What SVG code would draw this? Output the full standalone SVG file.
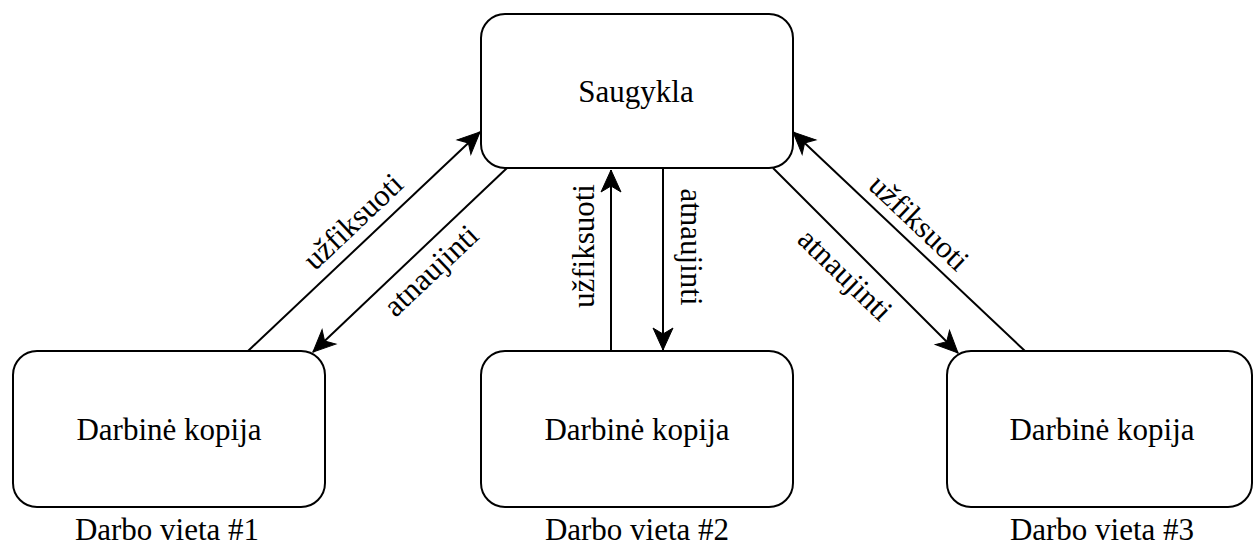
<svg xmlns="http://www.w3.org/2000/svg" width="1253" height="545" viewBox="0 0 1253 545">
  <style>
    .box { fill: #ffffff; stroke: #000000; stroke-width: 2; }
    .lbl { font-size: 31px; fill: #000000; text-anchor: middle; }
    .edge { fill: none; stroke: #000000; stroke-width: 2; marker-end: url(#arrow); }
  </style>
  <defs>
    <marker id="arrow" markerUnits="userSpaceOnUse" markerWidth="26" markerHeight="24" refX="0" refY="0" viewBox="-24 -12 26 24" orient="auto" overflow="visible">
      <path d="M0,0 L-22,-10 L-16,0 L-22,10 Z" fill="#000000" stroke="#000000" stroke-width="1"/>
    </marker>
  </defs>
  <rect width="1253" height="545" fill="#ffffff"/>

  <g font-family="Liberation Serif, Times New Roman, DejaVu Serif, serif">
  <!-- connectors -->
  <g id="connectors">
    <line class="edge" x1="248" y1="351" x2="480" y2="132"/>
    <line class="edge" x1="507" y1="168" x2="313" y2="352"/>
    <line class="edge" x1="611" y1="351" x2="611" y2="170"/>
    <line class="edge" x1="663" y1="168" x2="663" y2="350"/>
    <line class="edge" x1="773" y1="168" x2="958" y2="353"/>
    <line class="edge" x1="1025" y1="351" x2="793" y2="132"/>

    <text class="lbl" transform="translate(360 229) rotate(-43.4)">užfiksuoti</text>
    <text class="lbl" transform="translate(438 278) rotate(-43.4)">atnaujinti</text>
    <text class="lbl" transform="translate(594 246) rotate(-90)">užfiksuoti</text>
    <text class="lbl" transform="translate(681 247) rotate(90)">atnaujinti</text>
    <text class="lbl" transform="translate(912 230) rotate(43.4)">užfiksuoti</text>
    <text class="lbl" transform="translate(838 282) rotate(44)">atnaujinti</text>
  </g>

  <!-- repository -->
  <g id="saugykla">
    <rect class="box" x="481" y="14" width="312" height="154" rx="24" ry="24"/>
    <text class="lbl" x="636" y="102">Saugykla</text>
  </g>

  <!-- working copies -->
  <g id="kopija1">
    <rect class="box" x="13" y="351" width="312" height="156" rx="24" ry="24"/>
    <text class="lbl" x="169" y="440">Darbinė kopija</text>
    <text class="lbl" x="167" y="540">Darbo vieta #1</text>
  </g>
  <g id="kopija2">
    <rect class="box" x="481" y="351" width="312" height="156" rx="24" ry="24"/>
    <text class="lbl" x="637" y="440">Darbinė kopija</text>
    <text class="lbl" x="637" y="540">Darbo vieta #2</text>
  </g>
  <g id="kopija3">
    <rect class="box" x="947" y="351" width="305" height="156" rx="24" ry="24"/>
    <text class="lbl" x="1102" y="440">Darbinė kopija</text>
    <text class="lbl" x="1102" y="540">Darbo vieta #3</text>
  </g>
  </g>
</svg>
